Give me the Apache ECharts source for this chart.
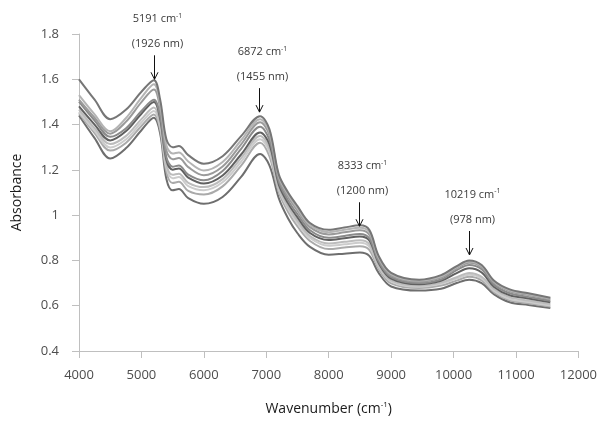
<!DOCTYPE html>
<html>
<head>
<meta charset="utf-8">
<script src="https://cdn.jsdelivr.net/npm/echarts@6/dist/echarts.min.js"></script>
<style>html,body{margin:0;padding:0;background:#fff}#c{width:600px;height:421px}</style>
</head>
<body>
<div id="c"></div>
<script>
const wavenumbers = [4000,4250,4500,4750,5000,5200,5300,5400,5500,5600,5750,6000,6300,6600,6900,7050,7200,7350,7500,7700,8000,8250,8500,8650,8800,9000,9450,9800,10050,10250,10450,10650,10900,11200,11550];
const s1 = [1.600,1.510,1.424,1.465,1.545,1.596,1.510,1.335,1.300,1.305,1.265,1.227,1.260,1.350,1.437,1.380,1.180,1.100,1.040,0.965,0.935,0.945,0.955,0.935,0.820,0.745,0.715,0.735,0.775,0.800,0.780,0.710,0.672,0.655,0.635];
const s2 = [1.530,1.445,1.370,1.428,1.519,1.578,1.492,1.309,1.272,1.277,1.237,1.197,1.235,1.332,1.424,1.367,1.172,1.091,1.030,0.957,0.925,0.935,0.944,0.925,0.813,0.740,0.711,0.730,0.770,0.795,0.775,0.706,0.668,0.651,0.632];
const s3 = [1.510,1.430,1.360,1.412,1.499,1.555,1.471,1.286,1.247,1.252,1.212,1.176,1.215,1.314,1.410,1.353,1.162,1.080,1.020,0.947,0.915,0.924,0.933,0.914,0.807,0.734,0.706,0.724,0.766,0.790,0.770,0.701,0.664,0.647,0.628];
const s4 = [1.501,1.418,1.346,1.383,1.460,1.510,1.435,1.256,1.214,1.219,1.179,1.154,1.195,1.294,1.390,1.332,1.148,1.065,1.004,0.933,0.900,0.908,0.917,0.898,0.796,0.726,0.700,0.716,0.757,0.780,0.761,0.692,0.655,0.639,0.622];
const s5 = [1.480,1.400,1.330,1.370,1.448,1.500,1.425,1.244,1.201,1.206,1.166,1.140,1.175,1.269,1.365,1.313,1.136,1.052,0.990,0.921,0.890,0.898,0.906,0.888,0.789,0.720,0.695,0.710,0.744,0.765,0.747,0.683,0.646,0.632,0.615];
const s6 = [1.466,1.384,1.314,1.349,1.424,1.475,1.404,1.223,1.178,1.183,1.143,1.124,1.159,1.253,1.350,1.294,1.123,1.038,0.975,0.908,0.875,0.882,0.889,0.872,0.779,0.712,0.689,0.702,0.726,0.745,0.728,0.673,0.637,0.623,0.607];
const s7 = [1.456,1.372,1.299,1.334,1.409,1.460,1.390,1.209,1.163,1.168,1.128,1.110,1.145,1.237,1.335,1.279,1.114,1.028,0.964,0.899,0.865,0.871,0.878,0.861,0.772,0.707,0.684,0.697,0.720,0.737,0.721,0.665,0.629,0.616,0.601];
const s8 = [1.450,1.362,1.285,1.319,1.394,1.445,1.377,1.190,1.142,1.147,1.107,1.091,1.127,1.220,1.320,1.260,1.101,1.014,0.950,0.886,0.850,0.857,0.863,0.847,0.762,0.699,0.678,0.689,0.711,0.728,0.712,0.659,0.624,0.611,0.597];
const s9 = [1.440,1.340,1.250,1.295,1.375,1.430,1.360,1.160,1.110,1.115,1.075,1.050,1.080,1.170,1.270,1.220,1.075,0.985,0.920,0.860,0.825,0.830,0.835,0.820,0.745,0.685,0.667,0.675,0.700,0.715,0.700,0.650,0.615,0.603,0.590];
const seriesValues = [s1, s2, s3, s4, s5, s6, s7, s8, s9];
const seriesColors = ['#767676','#b4b4b4','#9a9a9a','#8a8a8a','#606060','#bcbcbc','#cccccc','#aaaaaa','#6e6e6e'];

const annWave = ['5191', '6872', '8333', '10219'];
const annNm = ['(1926 nm)', '(1455 nm)', '(1200 nm)', '(978 nm)'];
const annX = [5195, 6890, 8490, 10255];
const annY = [1.600, 1.455, 0.951, 0.824];

const FONT = '"Open Sans", "Noto Sans", sans-serif';
const chart = echarts.init(document.getElementById('c'), null, {renderer: 'canvas'});

const series = seriesValues.map((vals, i) => ({
  type: 'line',
  data: wavenumbers.map((w, j) => [w, vals[j]]),
  showSymbol: false,
  smooth: 0.35,
  lineStyle: {width: 2, color: seriesColors[i]},
  itemStyle: {color: seriesColors[i]},
  silent: true,
  z: 10 - i
}));

chart.setOption({
  animation: false,
  backgroundColor: '#fff',
  grid: {left: 79, right: 20, top: 34, bottom: 67, containLabel: false},
  xAxis: {
    type: 'value', min: 4000, max: 12000, interval: 1000,
    name: '{a|Wavenumber (cm}{s|-1}{a|)}',
    nameLocation: 'middle', nameGap: 50,
    nameTextStyle: {
      rich: {
        a: {fontSize: 14, color: '#1a1a1a', fontFamily: FONT, lineHeight: 16},
        s: {fontSize: 8, color: '#1a1a1a', fontFamily: FONT, verticalAlign: 'top', lineHeight: 16, padding: [0,0,6,0]}
      }
    },
    axisLine: {lineStyle: {color: '#bfbfbf', width: 1}},
    axisTick: {show: true, length: 7, lineStyle: {color: '#bfbfbf'}},
    axisLabel: {margin: 18, fontSize: 13, color: '#4d4d4d', fontFamily: FONT, formatter: v => String(v)},
    splitLine: {show: false}
  },
  yAxis: {
    type: 'value', min: 0.4, max: 1.8, interval: 0.2,
    name: 'Absorbance', nameLocation: 'middle', nameGap: 55,
    nameTextStyle: {fontSize: 14, color: '#1a1a1a', fontFamily: FONT},
    axisLine: {show: true, lineStyle: {color: '#bfbfbf', width: 1}},
    axisTick: {show: true, length: 7, lineStyle: {color: '#bfbfbf'}},
    axisLabel: {margin: 20, fontSize: 13, color: '#4d4d4d', fontFamily: FONT,
      formatter: v => String(Math.round(v * 10) / 10)},
    splitLine: {show: false}
  },
  series: series
});

const graphics = [];
annX.forEach((x, i) => {
  const p = chart.convertToPixel({gridIndex: 0}, [x, annY[i]]);
  const px = Math.round(p[0]) + 0.5, py = p[1];
  graphics.push({type: 'line', shape: {x1: px, y1: py - 24, x2: px, y2: py}, style: {stroke: '#111', lineWidth: 1}, z: 100});
  graphics.push({type: 'polyline', shape: {points: [[px - 3.5, py - 7], [px, py], [px + 3.5, py - 7]]}, style: {stroke: '#111', lineWidth: 1, fill: null}, z: 100});
  graphics.push({type: 'text', x: px + 3, y: py - 60, z: 100, style: {
    text: '{a|' + annWave[i] + ' cm}{s|-1}', align: 'center', verticalAlign: 'middle',
    rich: {
      a: {fontSize: 11, fill: '#3a3a3a', fontFamily: FONT, lineHeight: 14},
      s: {fontSize: 7, fill: '#3a3a3a', fontFamily: FONT, verticalAlign: 'top', lineHeight: 14, padding: [0,0,5,0]}
    }
  }});
  graphics.push({type: 'text', x: px + 3, y: py - 35, z: 100, style: {
    text: annNm[i], align: 'center', verticalAlign: 'middle', fontSize: 11, fill: '#3a3a3a', fontFamily: FONT
  }});
});
chart.setOption({graphic: graphics});
</script>
</body>
</html>
